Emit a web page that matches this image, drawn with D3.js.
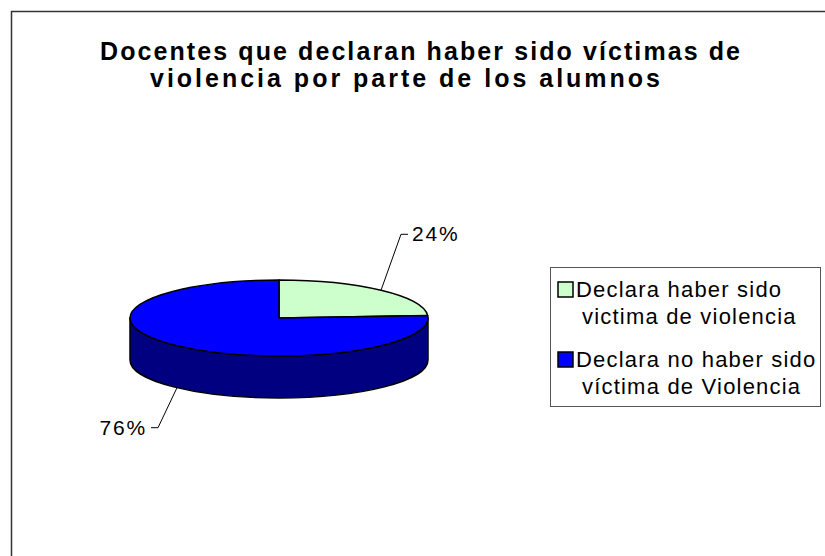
<!DOCTYPE html>
<html>
<head>
<meta charset="utf-8">
<script src="https://cdn.jsdelivr.net/npm/d3@7"></script>
<style>
  body { margin: 0; background: #fff; }
  svg { display: block; font-family: Arial, "Liberation Sans", sans-serif; }
</style>
</head>
<body>
<svg id="chart" width="825" height="556"></svg>
<script>
// data
const titleLines = ["Docentes que declaran haber sido víctimas de", "violencia por parte de los alumnos"];
const categories = ["Declara haber sido victima de violencia", "Declara no haber sido víctima de Violencia"];
const legendLines = [["Declara haber sido", "victima de violencia"], ["Declara no haber sido", "víctima de Violencia"]];
const values = [24, 76];
const percentLabels = ["24%", "76%"];

const topColors = ["#ccffcc", "#0000ff"];
const sideColors = ["#8fb38f", "#000080"];

const svg = d3.select("#chart");

// chart frame (runs off the right/bottom edge like the original)
svg.append("rect")
  .attr("x", 11.5).attr("y", 11.5)
  .attr("width", 830).attr("height", 560)
  .attr("fill", "#fff")
  .attr("stroke", "#333")
  .attr("stroke-width", 1.5);

// title, each line stretched to the width it has in the original
const titleBox = [[100, 640], [150, 510]];
svg.append("g")
  .attr("font-weight", "bold")
  .attr("font-size", 25)
  .attr("fill", "#000")
  .selectAll("text")
  .data(titleLines)
  .join("text")
  .attr("x", (d, i) => titleBox[i][0])
  .attr("y", (d, i) => 60 + i * 27)
  .attr("textLength", (d, i) => titleBox[i][1])
  .attr("lengthAdjust", "spacing")
  .text((d) => d);

// 3d pie geometry
const cx = 279, cy = 318, rx = 149, ry = 38, depth = 42;

const pt = (a, dy = 0) => [cx + rx * Math.sin(a), cy - ry * Math.cos(a) + dy];

const pie = d3.pie().sort(null).value((d) => d);
const arcs = pie(values);

function topPath(d) {
  const p0 = pt(d.startAngle), p1 = pt(d.endAngle);
  const large = d.endAngle - d.startAngle > Math.PI ? 1 : 0;
  return `M${cx},${cy}L${p0}A${rx},${ry} 0 ${large} 1 ${p1}Z`;
}

// only the front half (PI/2 .. 3PI/2) of the rim is visible
function sidePath(d) {
  const s0 = Math.max(d.startAngle, Math.PI / 2);
  const s1 = Math.min(d.endAngle, Math.PI * 1.5);
  if (s1 <= s0) return null;
  const a = pt(s0), b = pt(s1), c = pt(s1, depth), e = pt(s0, depth);
  return `M${a}A${rx},${ry} 0 0 1 ${b}L${c}A${rx},${ry} 0 0 0 ${e}Z`;
}

const pieG = svg.append("g");

pieG.selectAll("path.side")
  .data(arcs.filter((d) => sidePath(d)))
  .join("path")
  .attr("class", "side")
  .attr("d", sidePath)
  .attr("fill", (d) => sideColors[d.index])
  .attr("stroke", "#000")
  .attr("stroke-width", 1.5)
  .attr("stroke-linejoin", "round");

pieG.selectAll("path.top")
  .data(arcs)
  .join("path")
  .attr("class", "top")
  .attr("d", topPath)
  .attr("fill", (d) => topColors[d.index])
  .attr("stroke", "#000")
  .attr("stroke-width", 1.5)
  .attr("stroke-linejoin", "round");

// percent labels with leader lines
const elbow = [[20, -56], [-19, 40]];
const tick = 7;

arcs.forEach((d, i) => {
  const mid = (d.startAngle + d.endAngle) / 2;
  const front = Math.cos(mid) < 0;
  const start = pt(mid, front ? depth : 0);
  const right = Math.sin(mid) >= 0;
  const knee = [start[0] + elbow[i][0], start[1] + elbow[i][1]];
  const end = [knee[0] + (right ? tick : -tick), knee[1]];

  svg.append("path")
    .attr("d", d3.line()([start, knee, end]))
    .attr("fill", "none")
    .attr("stroke", "#000")
    .attr("stroke-width", 1);

  svg.append("text")
    .attr("x", end[0] + (right ? 4 : -4))
    .attr("y", end[1] + 7)
    .attr("text-anchor", right ? "start" : "end")
    .attr("font-size", 21)
    .attr("letter-spacing", "1.8px")
    .text(percentLabels[i]);
});

// legend
const legend = svg.append("g");
legend.append("rect")
  .attr("x", 550.5).attr("y", 267.5)
  .attr("width", 270).attr("height", 139)
  .attr("fill", "#fff")
  .attr("stroke", "#555")
  .attr("stroke-width", 1);

const item = legend.selectAll("g.item")
  .data(categories)
  .join("g")
  .attr("class", "item")
  .attr("transform", (d, i) => `translate(558,${282 + i * 70})`);

item.append("rect")
  .attr("width", 15).attr("height", 15)
  .attr("fill", (d, i) => topColors[i])
  .attr("stroke", "#000")
  .attr("stroke-width", 1.5);

item.each(function (d, i) {
  d3.select(this).selectAll("text")
    .data(legendLines[i])
    .join("text")
    .attr("x", (t, j) => (j === 0 ? 18 : 24))
    .attr("y", (t, j) => 15 + j * 27)
    .attr("font-size", 22)
    .attr("letter-spacing", "1.2px")
    .text((t) => t);
});
</script>
</body>
</html>
